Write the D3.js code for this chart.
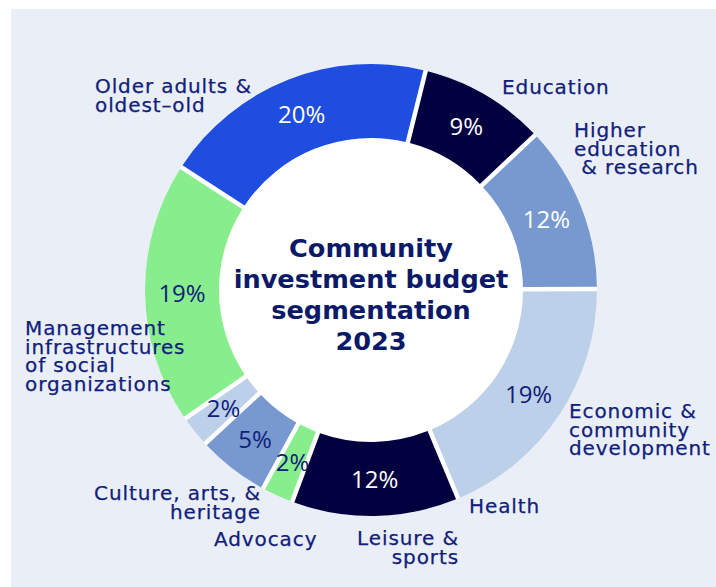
<!DOCTYPE html>
<html>
<head>
<meta charset="utf-8">
<script src="https://cdn.jsdelivr.net/npm/d3@7"></script>
<style>
  html, body { margin: 0; padding: 0; background: #ffffff; }
  svg { display: block; }
</style>
</head>
<body>
<svg id="chart" width="716" height="587"></svg>
<script>
// Budget segments, clockwise
const categories = [
  "Education",
  "Higher education & research",
  "Economic & community development",
  "Health",
  "Leisure & sports",
  "Advocacy",
  "Culture, arts, & heritage",
  "Management infrastructures of social organizations",
  "Older adults & oldest–old"
];
const shares = [9, 12, 19, 12, 2, 5, 2, 19, 20];

// How each category name wraps onto lines
const categoryLines = [
  ["Education"],
  ["Higher", "education", "\u00a0& research"],
  ["Economic &", "community", "development"],
  ["Health"],
  ["Leisure &", "sports"],
  ["Advocacy"],
  ["Culture, arts, &", "heritage"],
  ["Management", "infrastructures", "of social", "organizations"],
  ["Older adults &", "oldest–old"]
];

const titleLines = ["Community", "investment budget", "segmentation", "2023"];

// ---- styling / layout ----
const W = 716, H = 587;
const cx = 371, cy = 290;
const outerR = 226, innerR = 152;
const startDeg = 14;
const navy = "#10207a";
const titleNavy = "#0a1968";

const fills = ["#03003f", "#7899cf", "#bdd0e9", "#03003f", "#88ee8d",
               "#7899cf", "#bdd0e9", "#88ee8d", "#1f4de0"];
const pctColor = ["#ffffff", "#ffffff", navy, "#ffffff", navy,
                  navy, navy, navy, "#ffffff"];

// outside label placement: first-baseline anchor relative to the ring centre
const labelLayout = [
  { dx: 131, dy: -196, anchor: "start" },
  { dx: 203, dy: -153, anchor: "start" },
  { dx: 198, dy: 128, anchor: "start" },
  { dx: 98, dy: 223, anchor: "start" },
  { dx: 88, dy: 255, anchor: "end" },
  { dx: -157, dy: 256, anchor: "start" },
  { dx: -110, dy: 210, anchor: "end" },
  { dx: -346, dy: 45, anchor: "start" },
  { dx: -276, dy: -197, anchor: "start" }
];
const lineStep = 18.5;

const svg = d3.select("#chart");

svg.append("rect")
  .attr("x", 11).attr("y", 9)
  .attr("width", W - 11).attr("height", H - 9)
  .attr("fill", "#eaeff7");

const g = svg.append("g").attr("transform", `translate(${cx},${cy})`);

// white disc so that the gaps between segments read as white
g.append("circle").attr("r", outerR).attr("fill", "#ffffff");

const a0 = startDeg * Math.PI / 180;
const pie = d3.pie().sort(null).value(d => d)
  .startAngle(a0).endAngle(a0 + 2 * Math.PI)
  .padAngle(0.02);

const arc = d3.arc().innerRadius(innerR).outerRadius(outerR).padRadius(outerR);
const arcs = pie(shares);

g.selectAll("path.slice")
  .data(arcs)
  .join("path")
  .attr("class", "slice")
  .attr("d", arc)
  .attr("fill", (d, i) => fills[i]);

// percentage labels at the middle of each segment
g.selectAll("text.pct")
  .data(arcs)
  .join("text")
  .attr("class", "pct")
  .attr("transform", d => `translate(${arc.centroid(d)})`)
  .attr("text-anchor", "middle")
  .attr("dy", "0.36em")
  .attr("font-family", "'Open Sans', sans-serif")
  .attr("font-size", 24)
  .attr("fill", (d, i) => pctColor[i])
  .text(d => d.data + "%");

// category names around the ring
categories.forEach((name, i) => {
  const L = labelLayout[i];
  const t = g.append("text")
    .attr("class", "cat")
    .attr("text-anchor", L.anchor)
    .attr("font-family", "'DejaVu Sans', sans-serif")
    .attr("font-size", 20)
    .attr("letter-spacing", 0.9)
    .attr("fill", navy)
    .attr("stroke", navy)
    .attr("stroke-width", 0.25);
  categoryLines[i].forEach((line, j) => {
    t.append("tspan")
      .attr("x", L.dx)
      .attr("y", L.dy + j * lineStep)
      .text(line);
  });
});

// centre title
const title = g.append("text")
  .attr("text-anchor", "middle")
  .attr("font-family", "'DejaVu Sans', sans-serif")
  .attr("font-weight", "bold")
  .attr("font-size", 25.6)
  .attr("fill", titleNavy);
titleLines.forEach((line, j) => {
  title.append("tspan")
    .attr("x", 0)
    .attr("y", -33 + j * 31)
    .text(line);
});
</script>
</body>
</html>
